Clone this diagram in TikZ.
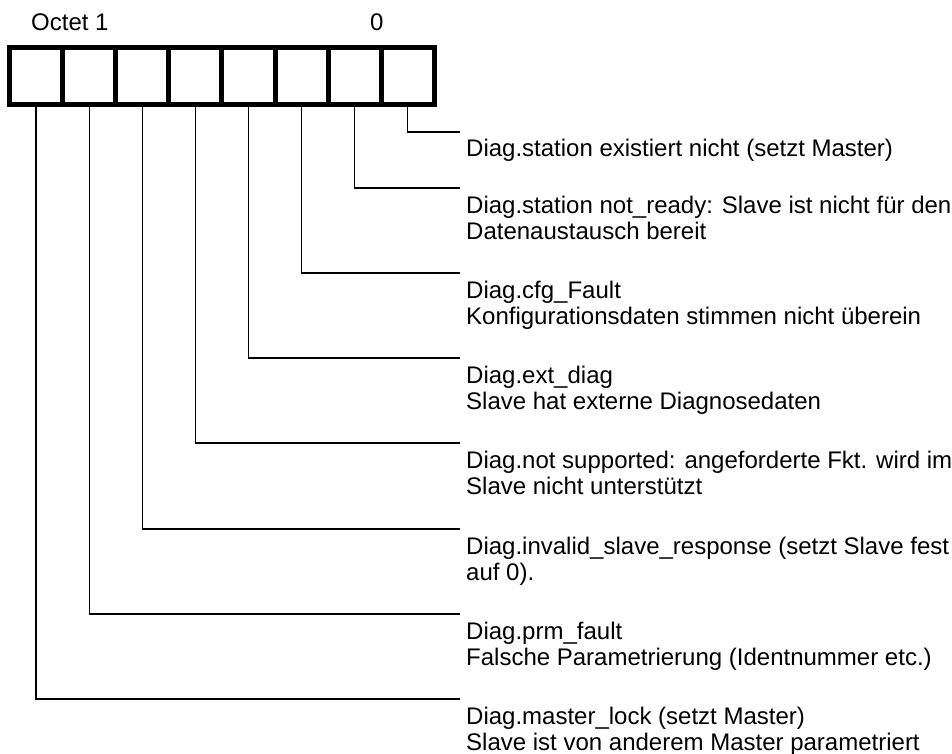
\documentclass[tikz,border=0pt]{standalone}
\usepackage{fontspec}
\setmainfont{Liberation Sans}
\begin{document}
\begin{tikzpicture}[x=1pt,y=-1pt,
  cell/.style={draw=black,line width=5pt,minimum width=53.1pt,minimum height=57pt,inner sep=0pt},
  lbl/.style={anchor=base west,inner sep=0pt,font=\fontsize{24}{27}\selectfont},
  conn/.style={draw=black,line width=1.3pt}]
\useasboundingbox[fill=white] (0,0) rectangle (952,754);
% octet cells (bit 7 .. bit 0)
\foreach \i in {1,...,8}{
  \node[cell] (c\i) at ({9.5+53.1*(\i-0.5)},76) {};
}
\node[lbl] (oct) at (31,31) {Octet 1};
\node[lbl] (zero) at (370,31) {0};
% line ends
\coordinate (e8) at (460,132);
\coordinate (e7) at (460,188);
\coordinate (e6) at (460,273);
\coordinate (e5) at (460,358);
\coordinate (e4) at (460,443);
\coordinate (e3) at (460,529);
\coordinate (e2) at (460,614);
\coordinate (e1) at (460,699);
\foreach \i in {1,...,8}{
  \draw[conn] (c\i.south) |- (e\i);
}
% labels
\node[lbl] (t8) at (466,157) {Diag.station existiert nicht (setzt Master)};
\node[lbl] (t7a) at (466,213) {Diag.station not\_ready: Slave ist nicht für den};
\node[lbl] (t7b) at (466,239) {Datenaustausch bereit};
\node[lbl] (t6a) at (466,298) {Diag.cfg\_Fault};
\node[lbl] (t6b) at (466,324) {Konfigurationsdaten stimmen nicht überein};
\node[lbl] (t5a) at (466,383) {Diag.ext\_diag};
\node[lbl] (t5b) at (466,409) {Slave hat externe Diagnosedaten};
\node[lbl] (t4a) at (466,468) {Diag.not supported: angeforderte Fkt. wird im};
\node[lbl] (t4b) at (466,494) {Slave nicht unterstützt};
\node[lbl] (t3a) at (466,554) {Diag.invalid\_slave\_response (setzt Slave fest};
\node[lbl] (t3b) at (466,580) {auf 0).};
\node[lbl] (t2a) at (466,639) {Diag.prm\_fault};
\node[lbl] (t2b) at (466,665) {Falsche Parametrierung (Identnummer etc.)};
\node[lbl] (t1a) at (466,724) {Diag.master\_lock (setzt Master)};
\node[lbl] (t1b) at (466,750) {Slave ist von anderem Master parametriert};
\end{tikzpicture}
\end{document}
